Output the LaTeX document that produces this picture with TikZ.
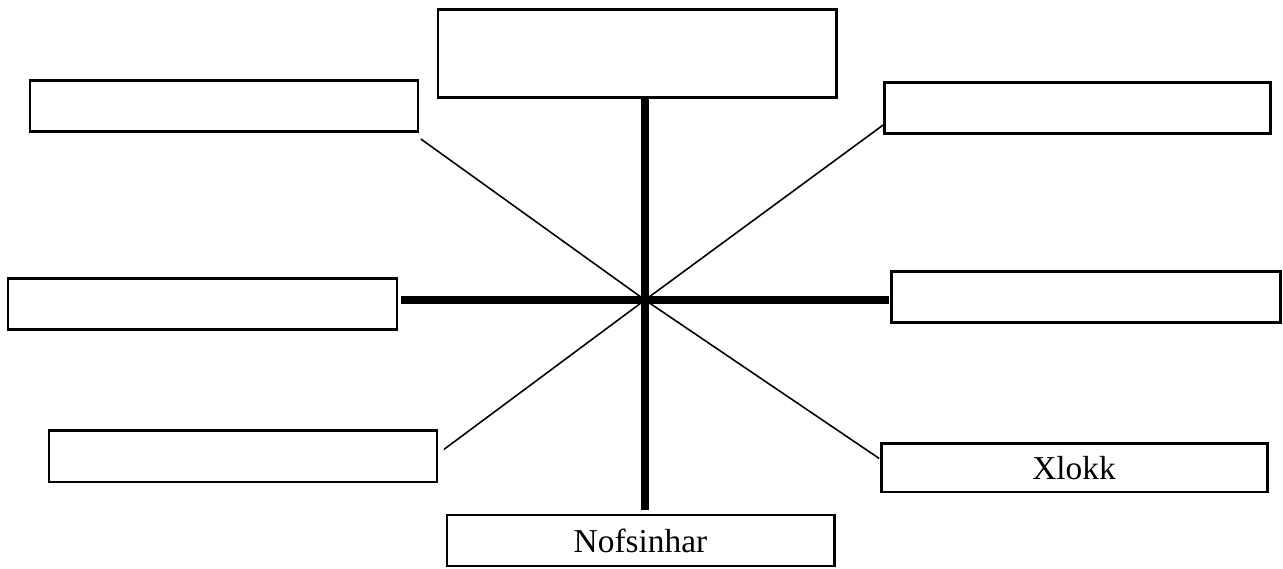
\documentclass[tikz,border=0pt]{standalone}
\usepackage{fontspec}
\setmainfont{Liberation Serif}
\usetikzlibrary{calc}

\begin{document}
\begin{tikzpicture}[cap=rect,
	lbox/.style={draw, line width=1.7pt, minimum height=1.02cm, inner sep=0pt, font=\fontsize{19}{22}\selectfont},
	thickline/.style={line width=4.5pt},
	thinline/.style={line width=0.9pt}]
	\useasboundingbox (0, 0) rectangle (25.66, 11.38);

	\coordinate (c) at (12.9, 5.38);

	\node [lbox, minimum width=7.96cm, minimum height=1.76cm] (top) at (12.74, 10.3) {};
	\node [lbox, minimum width=7.76cm] (tl) at (4.48, 9.25) {};
	\node [lbox, minimum width=7.72cm] (tr) at (21.54, 9.21) {};
	\node [lbox, minimum width=7.78cm] (ml) at (4.05, 5.29) {};
	\node [lbox, minimum width=7.78cm] (mr) at (21.71, 5.43) {};
	\node [lbox, minimum width=7.76cm] (bl) at (4.86, 2.25) {};
	\node [lbox, minimum width=7.72cm, minimum height=0.96cm] (br) at (21.48, 2.02) {Xlokk};
	\node [lbox, minimum width=7.74cm] (bot) at (12.81, 0.57) {Nofsinhar};

	\coordinate (hl) at ($(ml.east) + (0.12, 0)$);
	\coordinate (hr) at ($(mr.west) - (0.08, 0)$);
	\coordinate (vb) at ($(bot.north) + (0, 0.14)$);

	\draw [thickline] (c |- top.south) -- (c |- vb);
	\draw [thickline] (hl |- c) -- (hr |- c);

	\draw [thinline] ($(tl.south east) + (0.04, -0.12)$) -- (c);
	\draw [thinline] (c) -- ($(tr.south west) + (0, 0.2)$);
	\draw [thinline] (c) -- ($(bl.east) + (0.12, 0.15)$);
	\draw [thinline] (c) -- ($(br.west) + (-0.02, 0.2)$);
\end{tikzpicture}
\end{document}
